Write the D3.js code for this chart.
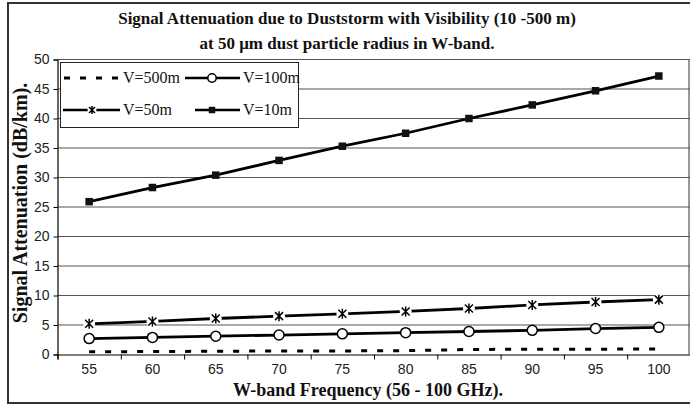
<!DOCTYPE html>
<html><head><meta charset="utf-8">
<script src="https://cdn.jsdelivr.net/npm/d3@7"></script>
<style>body{margin:0;background:#fff}svg{display:block}</style>
</head><body>
<svg id="c" width="690" height="406"></svg>
<script>
const categories = [55, 60, 65, 70, 75, 80, 85, 90, 95, 100];
const v500 = [0.45, 0.5, 0.55, 0.6, 0.6, 0.65, 0.85, 0.9, 0.9, 0.95];
const v100 = [2.7, 2.9, 3.1, 3.3, 3.5, 3.7, 3.9, 4.1, 4.4, 4.6];
const v50 = [5.2, 5.6, 6.1, 6.5, 6.9, 7.3, 7.8, 8.4, 8.9, 9.3];
const v10 = [25.9, 28.3, 30.4, 32.9, 35.3, 37.5, 40.0, 42.3, 44.7, 47.2];
const yTicks = [0, 5, 10, 15, 20, 25, 30, 35, 40, 45, 50];
const seriesNames = ["V=500m", "V=100m", "V=50m", "V=10m"];
const titleLines = ["Signal Attenuation due to Duststorm with Visibility (10 -500 m)", "at 50 \u03bcm dust particle radius in W-band."];
const xTitle = "W-band Frequency (56 - 100 GHz).";
const yTitle = "Signal Attenuation (dB/km).";

const svg = d3.select("#c");
const L = 57.5, R = 690.5, T = 59.5, B = 354.5;
const x = d3.scaleBand().domain(categories).range([L, R]);
const y = d3.scaleLinear().domain([0, 50]).range([B, T]);
const serif = "'Liberation Serif','Times New Roman',serif";
const sans = "'Liberation Sans',Arial,sans-serif";

// outer frame
svg.append("rect").attr("x", 8).attr("y", 3).attr("width", 690).attr("height", 400)
  .attr("fill", "none").attr("stroke", "#333").attr("stroke-width", 2);

// gridlines
svg.append("g").selectAll("line").data(yTicks.filter(d => d > 0)).join("line")
  .attr("x1", L).attr("x2", R).attr("y1", d => y(d)).attr("y2", d => y(d))
  .attr("stroke", "#555").attr("stroke-width", 1.2);
svg.append("line").attr("x1", 689).attr("x2", 689).attr("y1", T).attr("y2", B)
  .attr("stroke", "#555").attr("stroke-width", 1.2);

// axes
const yAxis = d3.axisLeft(y).tickValues(yTicks).tickSize(4).tickPadding(4);
const gy = svg.append("g").attr("transform", `translate(${L},0)`).call(yAxis);
gy.select(".domain").attr("stroke", "#000").attr("stroke-width", 1.2);
gy.selectAll(".tick line").attr("stroke", "#000");
gy.selectAll("text").attr("font-family", sans).attr("font-size", 14).attr("fill", "#222");

const xb = d3.scaleLinear().domain([0, categories.length]).range([L, R]);
const gx = svg.append("g").attr("transform", `translate(0,${B})`)
  .call(d3.axisBottom(xb).tickValues(d3.range(0, categories.length)).tickSize(5).tickFormat(""));
gx.select(".domain").attr("stroke", "#000").attr("stroke-width", 1.2);
gx.selectAll(".tick line").attr("stroke", "#000");
svg.append("g").selectAll("text").data(categories).join("text")
  .attr("x", d => x(d) + x.bandwidth() / 2).attr("y", B + 19)
  .attr("text-anchor", "middle").attr("font-family", sans).attr("font-size", 14).attr("fill", "#222")
  .text(d => d);

const cx = d => x(d) + x.bandwidth() / 2;
const line = d3.line().x((d, i) => cx(categories[i])).y(d => y(d));

// series lines
svg.append("path").datum(v500).attr("d", line).attr("fill", "none").attr("stroke", "#000")
  .attr("stroke-width", 3).attr("stroke-dasharray", "6,10");
[v100, v50, v10].forEach(s => {
  svg.append("path").datum(s).attr("d", line).attr("fill", "none").attr("stroke", "#000")
    .attr("stroke-width", 2.8);
});

// markers
function circleMark(g, px, py, r) {
  g.append("circle").attr("cx", px).attr("cy", py).attr("r", r).attr("fill", "#fff")
    .attr("stroke", "#000").attr("stroke-width", 1.5);
}
function squareMark(g, px, py, s) {
  g.append("rect").attr("x", px - s / 2).attr("y", py - s / 2).attr("width", s).attr("height", s).attr("fill", "#111");
}
function starMark(g, px, py, s) {
  g.append("circle").attr("cx", px).attr("cy", py).attr("r", s * 0.75).attr("fill", "#fff");
  const p = `M${px - s / 2},${py - s / 2}L${px + s / 2},${py + s / 2}M${px + s / 2},${py - s / 2}L${px - s / 2},${py + s / 2}M${px},${py - s / 2 - 1}L${px},${py + s / 2 + 1}`;
  g.append("path").attr("d", p).attr("stroke", "#000").attr("stroke-width", 1.5).attr("fill", "none");
}
const mg = svg.append("g");
v100.forEach((d, i) => circleMark(mg, cx(categories[i]), y(d), 5));
v50.forEach((d, i) => starMark(mg, cx(categories[i]), y(d), 8));
v10.forEach((d, i) => squareMark(mg, cx(categories[i]), y(d), 7.5));

// legend
const lg = svg.append("g");
lg.append("rect").attr("x", 60.5).attr("y", 62.5).attr("width", 238).attr("height", 65)
  .attr("fill", "#fff").attr("stroke", "#222").attr("stroke-width", 1);
const legItems = [
  {name: seriesNames[0], x1: 64, x2: 120, tx: 123, yy: 78, type: "dash"},
  {name: seriesNames[1], x1: 185, x2: 240, tx: 243, yy: 78, type: "circle"},
  {name: seriesNames[2], x1: 63, x2: 120, tx: 123, yy: 110, type: "star"},
  {name: seriesNames[3], x1: 195, x2: 240, tx: 243, yy: 110, type: "square"}
];
legItems.forEach(it => {
  const ln = lg.append("line").attr("x1", it.x1).attr("x2", it.x2).attr("y1", it.yy).attr("y2", it.yy)
    .attr("stroke", "#000").attr("stroke-width", it.type === "dash" ? 3 : 2.4);
  if (it.type === "dash") ln.attr("stroke-dasharray", "6,10");
  if (it.type === "circle") circleMark(lg, 212, it.yy, 4.2);
  if (it.type === "star") starMark(lg, 92, it.yy, 6);
  if (it.type === "square") squareMark(lg, 212, it.yy, 6.5);
  lg.append("text").attr("x", it.tx).attr("y", it.yy + 5).attr("font-family", serif).attr("font-size", 16)
    .attr("fill", "#111").text(it.name);
});

// titles
svg.append("g").selectAll("text").data(titleLines).join("text")
  .attr("x", 347).attr("y", (d, i) => 24 + i * 25).attr("text-anchor", "middle")
  .attr("font-family", serif).attr("font-weight", "bold").attr("font-size", 17).attr("fill", "#111")
  .text(d => d);
svg.append("text").attr("x", 368).attr("y", 396).attr("text-anchor", "middle")
  .attr("font-family", serif).attr("font-weight", "bold").attr("font-size", 18).attr("fill", "#111")
  .text(xTitle);
svg.append("text").attr("transform", "translate(26.5,203) rotate(-90)").attr("text-anchor", "middle")
  .attr("font-family", serif).attr("font-weight", "bold").attr("font-size", 20).attr("fill", "#111")
  .text(yTitle);
</script>
</body></html>
